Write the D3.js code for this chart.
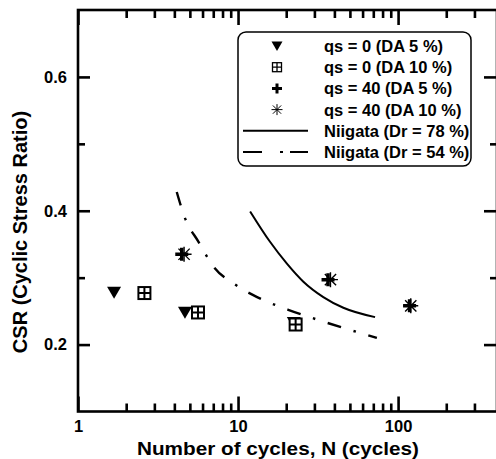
<!DOCTYPE html>
<html>
<head>
<meta charset="utf-8">
<script src="https://cdn.jsdelivr.net/npm/d3@7"></script>
<style>
  html, body { margin: 0; padding: 0; background: #fff; }
  svg { display: block; font-family: "Liberation Sans", Arial, Helvetica, sans-serif; font-weight: bold; }
</style>
</head>
<body>
<svg id="chart" width="496" height="459"></svg>
<script>
// Test results: [N cycles, CSR]
const qs0DA5   = [[1.68, 0.278], [4.66, 0.248], [22.3, 0.233]];
const qs0DA10  = [[2.60, 0.277], [5.62, 0.248], [22.9, 0.230]];
const qs40DA5  = [[4.45, 0.335], [36.5, 0.297], [118, 0.258]];
const qs40DA10 = [[4.60, 0.335], [37.8, 0.297], [120, 0.258]];

// Reference curves for Niigata sand
const niigata78 = [[11.9, 0.399], [15.8, 0.354], [20.2, 0.321], [25.6, 0.294],
                   [34.1, 0.271], [45.5, 0.255], [71.8, 0.241]];
const niigata54 = [[4.14, 0.428], [4.66, 0.389], [5.65, 0.354], [7.0, 0.317],
                   [9.7, 0.289], [14.0, 0.268], [20.6, 0.252], [30.6, 0.238],
                   [45.4, 0.225], [73.7, 0.210]];

// Axis ticks
const xMajor = [1, 10, 100];
const xMinor = [2, 3, 4, 5, 6, 7, 8, 9, 20, 30, 40, 50, 60, 70, 80, 90, 200, 300];
const yMajor = [0.2, 0.4, 0.6];
const yMinor = [0.3, 0.5];

const legendLabels = ["qs = 0 (DA 5 %)", "qs = 0 (DA 10 %)", "qs = 40 (DA 5 %)",
                      "qs = 40 (DA 10 %)", "Niigata (Dr = 78 %)", "Niigata (Dr = 54 %)"];

const svg = d3.select("#chart");
const x = d3.scaleLog().domain([1, 415]).range([78, 497]);
const y = d3.scaleLinear().domain([0.1, 0.7]).range([411.5, 10]);

// Frame
const [x0, x1] = x.range(), [y0, y1] = y.range();
svg.append("rect").attr("x", x0).attr("y", y1).attr("width", x1 - x0).attr("height", y0 - y1)
  .attr("fill", "none").attr("stroke", "#000").attr("stroke-width", 2.6);

// Bottom / top axes (ticks point inward)
svg.append("g").attr("transform", `translate(0,${y0})`)
  .call(d3.axisBottom(x).tickValues(xMajor).tickSize(-15).tickPadding(9).tickFormat(d3.format("d")));
svg.append("g").attr("transform", `translate(0,${y0})`)
  .call(d3.axisBottom(x).tickValues(xMinor).tickSize(-8).tickFormat(""));
svg.append("g").attr("transform", `translate(0,${y1})`)
  .call(d3.axisTop(x).tickValues(xMajor).tickSize(-15).tickFormat(""));
svg.append("g").attr("transform", `translate(0,${y1})`)
  .call(d3.axisTop(x).tickValues(xMinor).tickSize(-8).tickFormat(""));

// Left / right axes
svg.append("g").attr("transform", `translate(${x0},0)`)
  .call(d3.axisLeft(y).tickValues(yMajor).tickSize(-12).tickPadding(11).tickFormat(d3.format(".1f")));
svg.append("g").attr("transform", `translate(${x0},0)`)
  .call(d3.axisLeft(y).tickValues(yMinor).tickSize(-7).tickFormat(""));
svg.append("g").attr("transform", `translate(${x1},0)`)
  .call(d3.axisRight(y).tickValues(yMajor).tickSize(-13).tickFormat(""));
svg.append("g").attr("transform", `translate(${x1},0)`)
  .call(d3.axisRight(y).tickValues(yMinor).tickSize(-7).tickFormat(""));

svg.selectAll(".domain").remove();
svg.selectAll(".tick line").attr("stroke", "#000").attr("stroke-width", 2.6);
svg.selectAll(".tick text").attr("fill", "#000").attr("font-size", 16.5)
  .attr("font-family", "Liberation Sans, Arial, sans-serif").attr("font-weight", "bold");

// Axis titles
svg.append("text").attr("x", 278).attr("y", 455).attr("text-anchor", "middle")
  .attr("font-size", 19).attr("textLength", 282).attr("lengthAdjust", "spacingAndGlyphs")
  .text("Number of cycles, N (cycles)");
svg.append("text").attr("transform", "translate(27,232) rotate(-90)").attr("text-anchor", "middle")
  .attr("font-size", 20).text("CSR (Cyclic Stress Ratio)");

// Curves
const line = d3.line().x(d => x(d[0])).y(d => y(d[1])).curve(d3.curveMonotoneX);
svg.append("path").datum(niigata78).attr("d", line)
  .attr("fill", "none").attr("stroke", "#000").attr("stroke-width", 2);
svg.append("path").datum(niigata54).attr("d", line)
  .attr("fill", "none").attr("stroke", "#000").attr("stroke-width", 2.4)
  .attr("stroke-dasharray", "14,13,2.5,13");

// Marker shapes
function triDown(g, s) {
  g.append("path").attr("d", `M${-s/2},${-s*0.4}L${s/2},${-s*0.4}L0,${s*0.45}Z`).attr("fill", "#000");
}
function boxCross(g, s, w) {
  const h = s / 2;
  g.append("rect").attr("x", -h).attr("y", -h).attr("width", s).attr("height", s)
    .attr("fill", "#fff").attr("stroke", "#000").attr("stroke-width", w);
  g.append("path").attr("d", `M0,${-h}V${h}M${-h},0H${h}`).attr("stroke", "#000").attr("stroke-width", w);
}
function plus(g, s, w) {
  const h = s / 2;
  g.append("path").attr("d", `M0,${-h}V${h}M${-h},0H${h}`).attr("stroke", "#000").attr("stroke-width", w);
}
function asterisk(g, s, w) {
  const h = s / 2, d = h * 0.75;
  g.append("path").attr("d", `M0,${-h}V${h}M${-h},0H${h}M${-d},${-d}L${d},${d}M${-d},${d}L${d},${-d}`)
    .attr("stroke", "#000").attr("stroke-width", w);
}

const drawers = [
  (g) => triDown(g, 14),
  (g) => boxCross(g, 12, 2),
  (g) => plus(g, 13, 3.5),
  (g) => asterisk(g, 15, 1.4)
];
[qs0DA5, qs0DA10, qs40DA5, qs40DA10].forEach((series, i) => {
  svg.append("g").selectAll("g").data(series).join("g")
    .attr("transform", d => `translate(${x(d[0])},${y(d[1])})`)
    .each(function () { drawers[i](d3.select(this)); });
});

// Legend
const lg = svg.append("g");
lg.append("rect").attr("x", 238).attr("y", 32).attr("width", 233).attr("height", 134)
  .attr("rx", 8).attr("fill", "#fff").attr("stroke", "#000").attr("stroke-width", 1.5);
const legendSymbols = [
  (g) => triDown(g, 11),
  (g) => boxCross(g, 9, 1.3),
  (g) => plus(g, 10, 3),
  (g) => asterisk(g, 11, 1)
];
legendLabels.forEach((lab, i) => {
  const ry = 46 + i * 21.2;
  if (i < 4) {
    const g = lg.append("g").attr("transform", `translate(277,${ry})`);
    legendSymbols[i](g);
  } else {
    lg.append("line").attr("x1", 243).attr("x2", 308).attr("y1", ry).attr("y2", ry)
      .attr("stroke", "#000").attr("stroke-width", 2)
      .attr("stroke-dasharray", i === 5 ? "19,18,3,7,19" : null);
  }
  lg.append("text").attr("x", 324).attr("y", ry).attr("dy", "0.36em")
    .attr("font-size", 16.5).text(lab);
});
</script>
</body>
</html>
